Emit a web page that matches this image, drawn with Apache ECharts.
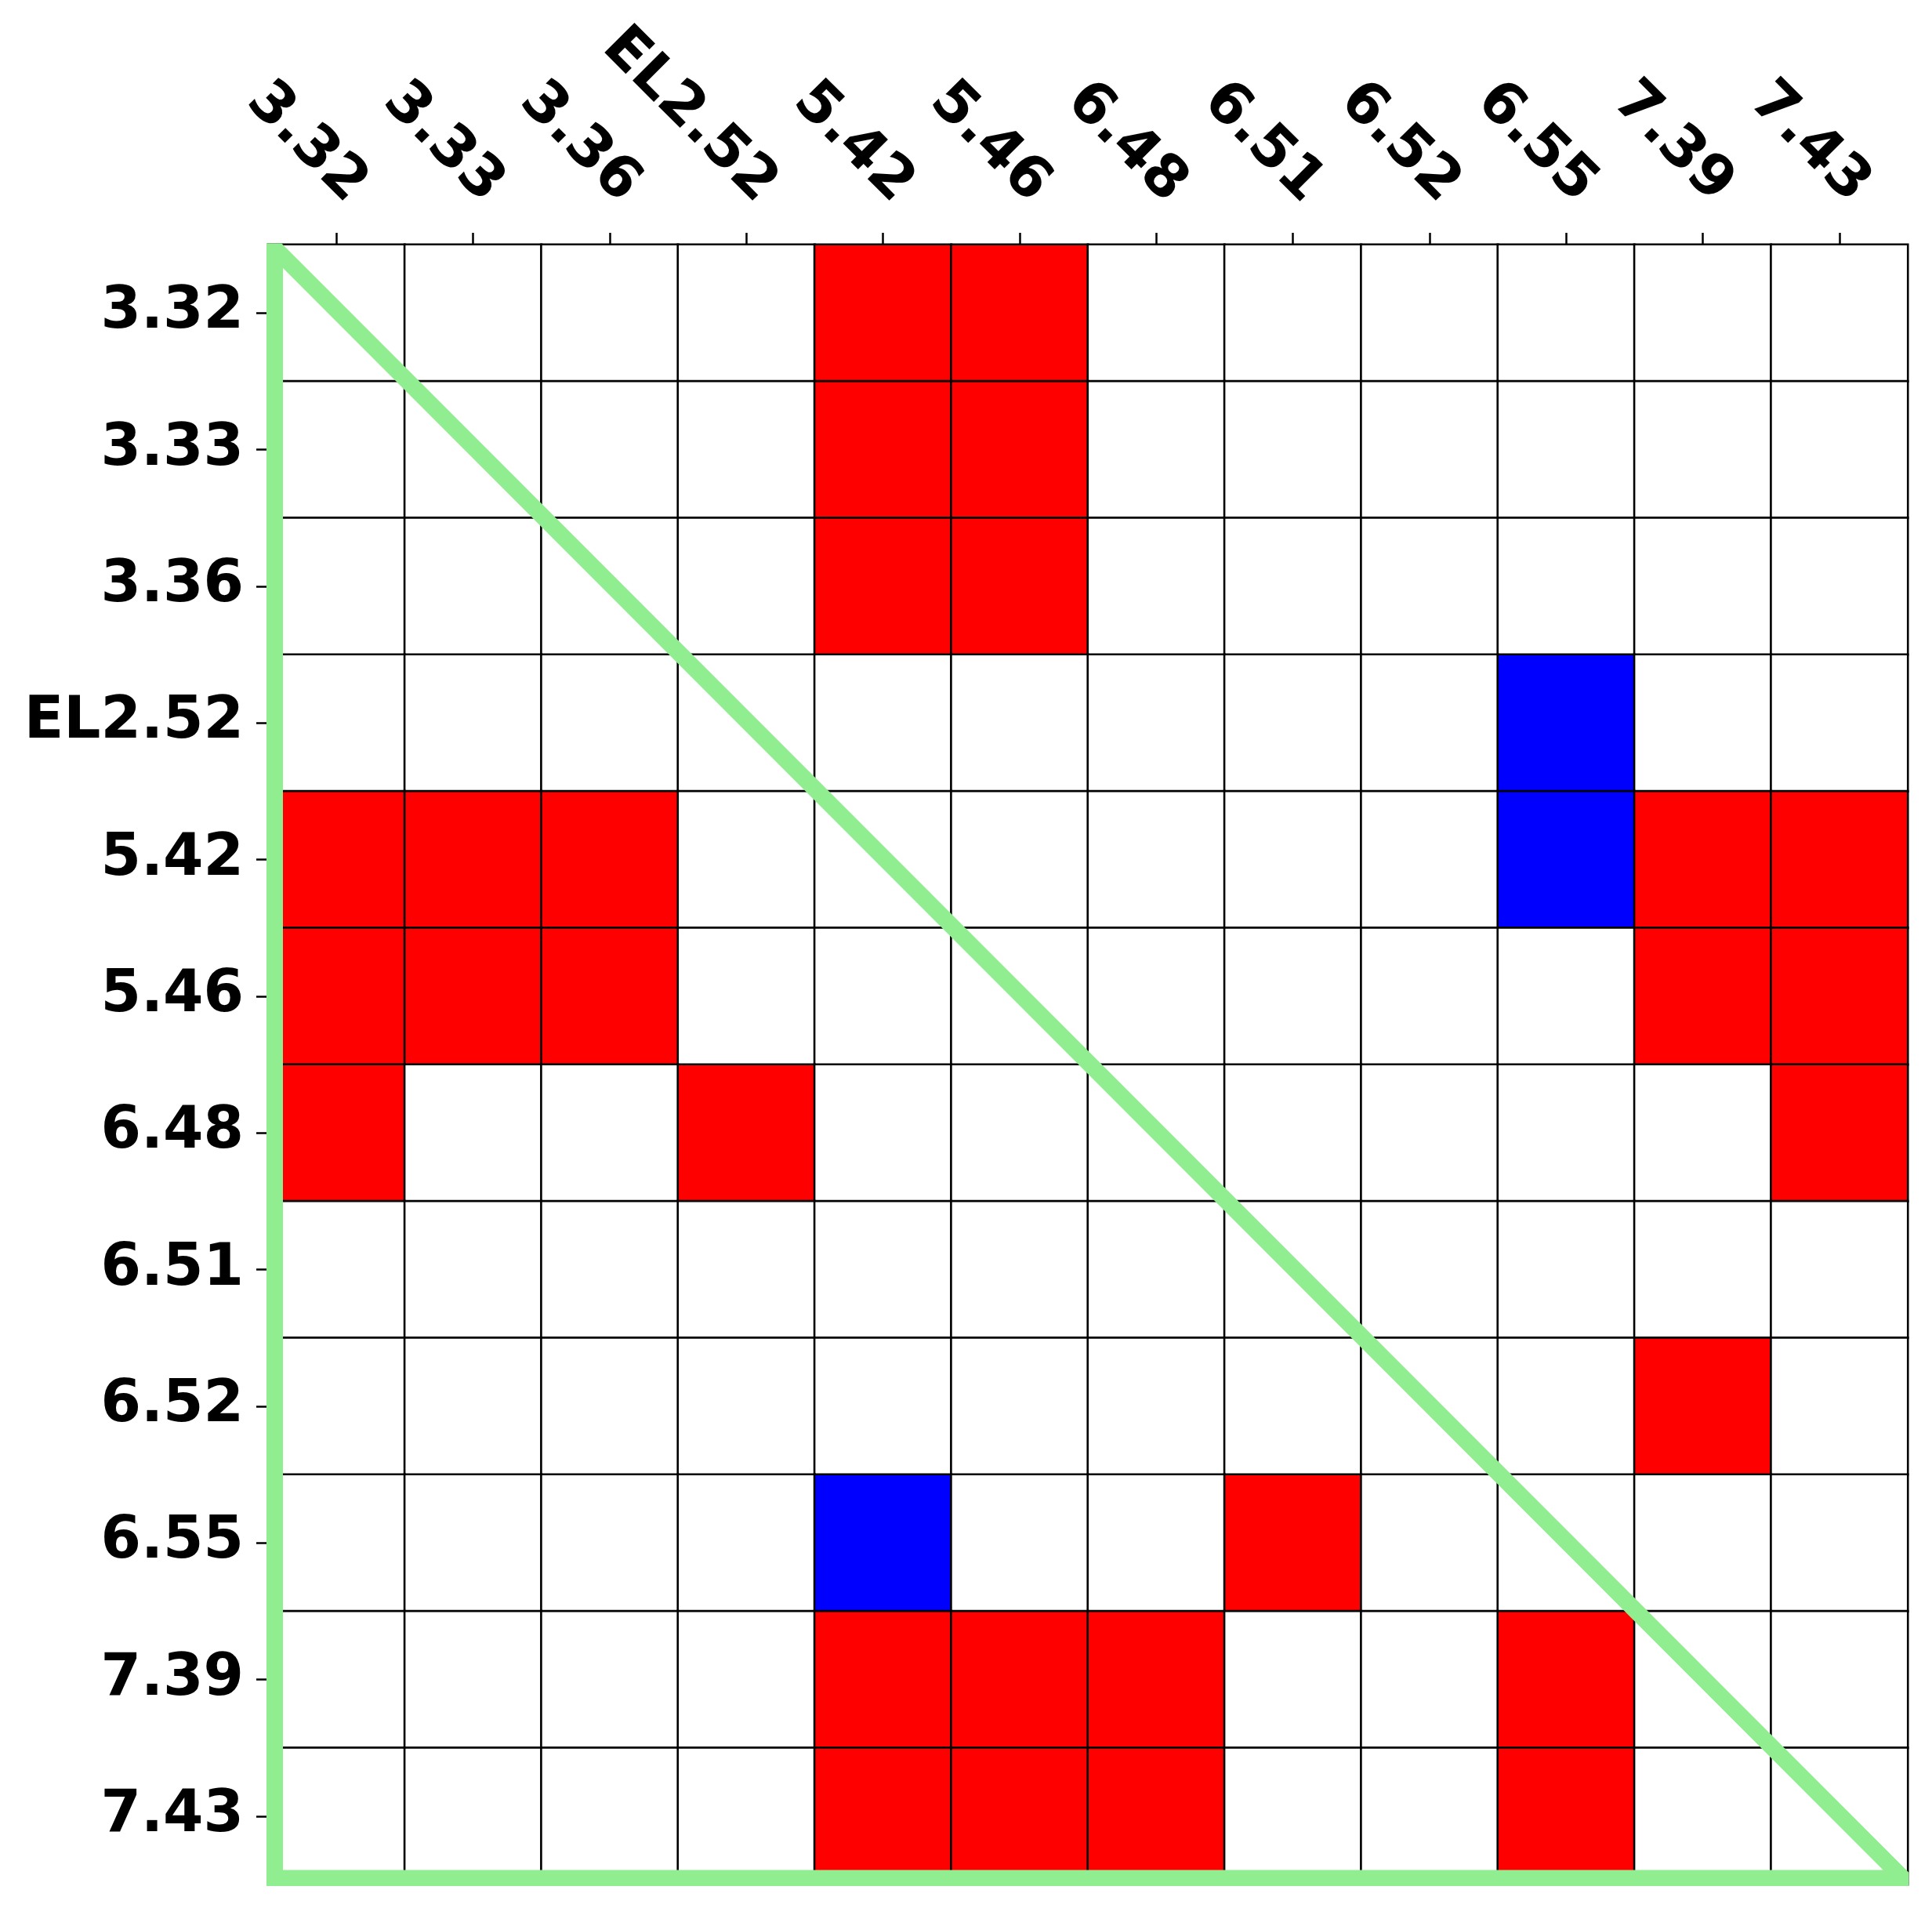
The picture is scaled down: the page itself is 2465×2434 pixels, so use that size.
<!DOCTYPE html>
<html>
<head>
<meta charset="utf-8">
<script src="https://cdn.jsdelivr.net/npm/echarts@6/dist/echarts.min.js"></script>
<style>
  html, body { margin: 0; padding: 0; background: #ffffff; }
  #chart { width: 2465px; height: 2434px; }
</style>
</head>
<body>
<div id="chart"></div>
<script>
// Category labels (same for both axes)
const categories = ["3.32", "3.33", "3.36", "EL2.52", "5.42", "5.46", "6.48", "6.51", "6.52", "6.55", "7.39", "7.43"];

// Cell values: rows follow y categories (top to bottom), columns follow x categories.
// 1 = red, -1 = blue, 0 = white
const row_3_32  = [0, 0, 0, 0, 1, 1, 0, 0, 0, 0, 0, 0];
const row_3_33  = [0, 0, 0, 0, 1, 1, 0, 0, 0, 0, 0, 0];
const row_3_36  = [0, 0, 0, 0, 1, 1, 0, 0, 0, 0, 0, 0];
const row_EL252 = [0, 0, 0, 0, 0, 0, 0, 0, 0, -1, 0, 0];
const row_5_42  = [1, 1, 1, 0, 0, 0, 0, 0, 0, -1, 1, 1];
const row_5_46  = [1, 1, 1, 0, 0, 0, 0, 0, 0, 0, 1, 1];
const row_6_48  = [1, 0, 0, 1, 0, 0, 0, 0, 0, 0, 0, 1];
const row_6_51  = [0, 0, 0, 0, 0, 0, 0, 0, 0, 0, 0, 0];
const row_6_52  = [0, 0, 0, 0, 0, 0, 0, 0, 0, 0, 1, 0];
const row_6_55  = [0, 0, 0, 0, -1, 0, 0, 1, 0, 0, 0, 0];
const row_7_39  = [0, 0, 0, 0, 1, 1, 1, 0, 0, 1, 0, 0];
const row_7_43  = [0, 0, 0, 0, 1, 1, 1, 0, 0, 1, 0, 0];

const rows = [row_3_32, row_3_33, row_3_36, row_EL252, row_5_42, row_5_46,
              row_6_48, row_6_51, row_6_52, row_6_55, row_7_39, row_7_43];

const heatData = [];
rows.forEach(function (row, yi) {
  row.forEach(function (v, xi) { heatData.push([xi, yi, v]); });
});

const labelFont = {
  fontFamily: "DejaVu Sans",
  fontWeight: "bold",
  fontSize: 74,
  color: "#000000"
};

const chart = echarts.init(document.getElementById("chart"), null, { renderer: "canvas" });

chart.setOption({
  animation: false,
  backgroundColor: "#ffffff",
  grid: { left: 342, top: 312, width: 2092, height: 2092, containLabel: false },
  xAxis: {
    type: "category",
    data: categories,
    position: "top",
    boundaryGap: true,
    axisLine: { show: false },
    splitLine: { show: false },
    axisTick: { show: true, alignWithLabel: true, length: 15, lineStyle: { color: "#000", width: 2.5 } },
    axisLabel: Object.assign({
      interval: 0,
      rotate: 45,
      align: "right",
      verticalAlign: "bottom",
      margin: 39
    }, labelFont)
  },
  yAxis: {
    type: "category",
    data: categories,
    inverse: true,
    boundaryGap: true,
    axisLine: { show: false },
    splitLine: { show: false },
    axisTick: { show: true, alignWithLabel: true, length: 15, lineStyle: { color: "#000", width: 2.5 } },
    axisLabel: Object.assign({
      interval: 0,
      align: "right",
      verticalAlign: "middle",
      padding: [12, 0, 0, 0],
      margin: 31
    }, labelFont)
  },
  visualMap: {
    show: false,
    type: "piecewise",
    dimension: 2,
    seriesIndex: 0,
    pieces: [
      { value: -1, color: "#0000ff" },
      { value: 0, color: "#ffffff" },
      { value: 1, color: "#ff0000" }
    ]
  },
  series: [
    {
      type: "heatmap",
      data: heatData,
      silent: true,
      itemStyle: { borderColor: "#000000", borderWidth: 2.6 },
      emphasis: { disabled: true },
      label: { show: false }
    },
    {
      type: "custom",
      silent: true,
      z: 10,
      data: [[0, 0]],
      renderItem: function (params, api) {
        const cs = params.coordSys;
        const L = cs.x, T = cs.y, R = cs.x + cs.width, B = cs.y + cs.height;
        const lx = L + 8.5;
        const by = B - 8;
        return {
          type: "group",
          clipPath: { type: "rect", shape: { x: L - 2, y: T - 1.5, width: cs.width + 3.5, height: cs.height + 3.5 } },
          children: [{
            type: "polygon",
            shape: { points: [[lx, T + 4.5], [lx, by], [R - 6, by]] },
            style: { fill: null, stroke: "#90EE90", lineWidth: 21, lineJoin: "miter", miterLimit: 10 }
          }]
        };
      }
    }
  ]
});
</script>
</body>
</html>
